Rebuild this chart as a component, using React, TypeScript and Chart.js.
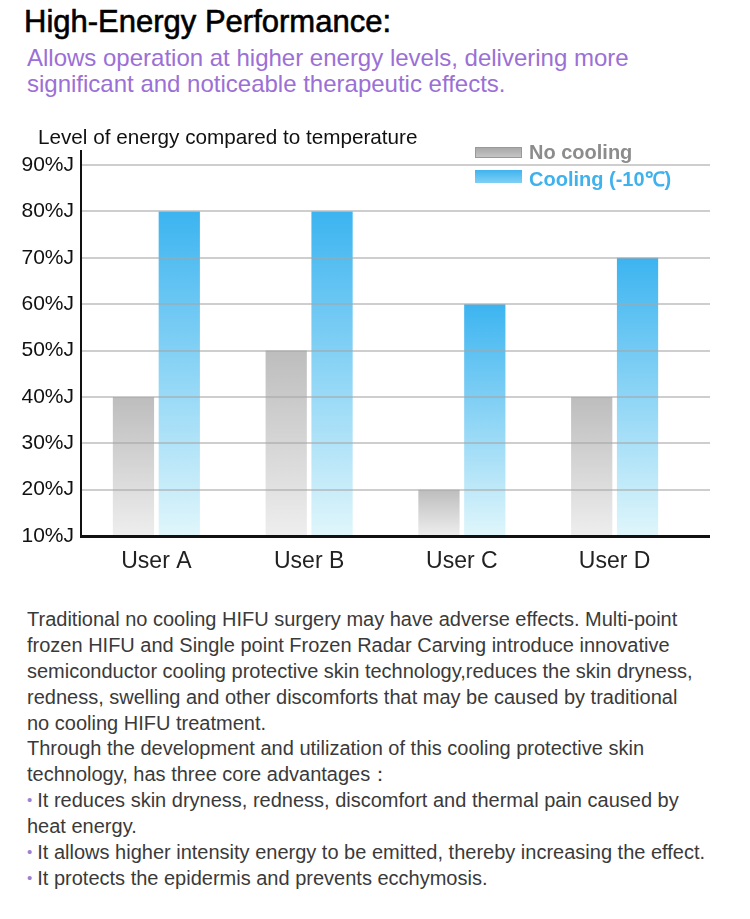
import React, { useEffect, useRef } from "react";
import { Chart, registerables } from "chart.js";

Chart.register(...registerables);

const FONT = "'Liberation Sans', Arial, Helvetica, sans-serif";

const categories = ["User A", "User B", "User C", "User D"];
const noCooling = [40, 50, 20, 40];
const cooling = [80, 80, 60, 70];
const yMin = 10;
const yMax = 90;
const yStep = 10;
const gridValues = [20, 30, 40, 50, 60, 70, 80, 90];
const seriesNames = ["No cooling", "Cooling (-10\u2103)"];

const paragraphLines = [
  "Traditional no cooling HIFU surgery may have adverse effects. Multi-point",
  "frozen HIFU and Single point Frozen Radar Carving introduce innovative",
  "semiconductor cooling protective skin technology,reduces the skin dryness,",
  "redness, swelling and other discomforts that may be caused by traditional",
  "no cooling HIFU treatment.",
  "Through the development and utilization of this cooling protective skin",
  "technology, has three core advantages\uFF1A",
];
const bulletLines: { bullet: boolean; text: string }[] = [
  { bullet: true, text: "It reduces skin dryness, redness, discomfort and thermal pain caused by" },
  { bullet: false, text: "heat energy." },
  { bullet: true, text: "It allows higher intensity energy to be emitted, thereby increasing the effect." },
  { bullet: true, text: "It protects the epidermis and prevents ecchymosis." },
];

function gradientFor(top: string, bottom: string, fallback: string) {
  return (ctx: any) => {
    const chart = ctx.chart;
    const area = chart.chartArea;
    if (!area || ctx.raw === undefined) return fallback;
    const y = chart.scales.y;
    const t = y.getPixelForValue(ctx.raw);
    const b = y.getPixelForValue(yMin);
    if (!isFinite(t) || !isFinite(b) || t === b) return fallback;
    const g = chart.ctx.createLinearGradient(0, t, 0, b);
    g.addColorStop(0, top);
    g.addColorStop(1, bottom);
    return g;
  };
}

const gridPlugin = {
  id: "customGrid",
  afterDatasetsDraw(chart: any) {
    const { ctx, chartArea, scales } = chart;
    const ext = 19;
    ctx.save();
    ctx.strokeStyle = "rgba(165,165,165,0.55)";
    ctx.lineWidth = 2;
    for (const v of gridValues) {
      const y = Math.round(scales.y.getPixelForValue(v));
      ctx.beginPath();
      ctx.moveTo(chartArea.left, y);
      ctx.lineTo(chartArea.right + ext, y);
      ctx.stroke();
    }
    ctx.strokeStyle = "#111";
    ctx.lineWidth = 2;
    ctx.beginPath();
    ctx.moveTo(chartArea.left + 1, chartArea.top - 15);
    ctx.lineTo(chartArea.left + 1, chartArea.bottom);
    ctx.stroke();
    ctx.lineWidth = 3;
    ctx.beginPath();
    ctx.moveTo(chartArea.left, chartArea.bottom + 0.5);
    ctx.lineTo(chartArea.right + ext, chartArea.bottom + 0.5);
    ctx.stroke();
    ctx.restore();
  },
};

function BarChart() {
  const ref = useRef<HTMLCanvasElement | null>(null);
  useEffect(() => {
    if (!ref.current) return;
    const chart = new Chart(ref.current, {
      type: "bar",
      data: {
        labels: categories,
        datasets: [
          {
            label: seriesNames[0],
            data: noCooling,
            base: yMin,
            backgroundColor: gradientFor("#bdbdbd", "#eeeeee", "#cccccc"),
            categoryPercentage: 0.6,
            barPercentage: 0.9,
          },
          {
            label: seriesNames[1],
            data: cooling,
            base: yMin,
            backgroundColor: gradientFor("#3cb4f0", "#e0f6fb", "#6cc6f2"),
            categoryPercentage: 0.6,
            barPercentage: 0.9,
          },
        ],
      } as any,
      options: {
        animation: false,
        responsive: false,
        layout: { padding: { left: 0, right: 59, top: 45, bottom: 0 } },
        plugins: { legend: { display: false }, tooltip: { enabled: false }, title: { display: false } },
        scales: {
          x: {
            grid: { display: false, drawTicks: false },
            border: { display: false },
            ticks: { font: { family: FONT, size: 23 }, color: "#222", padding: 12 },
            afterFit: (s: any) => {
              s.height = 64;
            },
          },
          y: {
            min: yMin,
            max: yMax,
            grid: { display: false, drawTicks: false },
            border: { display: false },
            ticks: {
              stepSize: yStep,
              font: { family: FONT, size: 21 },
              color: "#111",
              padding: 6,
              callback: (v: any) => `${v}%J`,
            },
            afterFit: (s: any) => {
              s.width = 80;
            },
          },
        },
      } as any,
      plugins: [gridPlugin],
    });
    return () => chart.destroy();
  }, []);
  return <canvas ref={ref} width={750} height={480} style={{ width: 750, height: 480, display: "block" }} />;
}

export default function App() {
  const abs = (left: number, centerY: number, lh: number): React.CSSProperties => ({
    position: "absolute",
    left,
    top: centerY - lh / 2,
    lineHeight: `${lh}px`,
    whiteSpace: "nowrap",
  });
  const lineStyle: React.CSSProperties = { whiteSpace: "nowrap", height: 25.9, lineHeight: "25.9px" };
  return (
    <div style={{ position: "relative", width: 750, height: 919, background: "#fff", overflow: "hidden", fontFamily: FONT }}>
      <style>{`body{margin:0}`}</style>
      <div style={{ ...abs(24, 22, 36), fontSize: 31, color: "#000", WebkitTextStroke: "0.6px #000" } as any}>
        High-Energy Performance:
      </div>
      <div style={{ ...abs(27, 58, 28), fontSize: 24, color: "#9b70d6" }}>
        Allows operation at higher energy levels, delivering more
      </div>
      <div style={{ ...abs(27, 84, 28), fontSize: 24, color: "#9b70d6" }}>
        significant and noticeable therapeutic effects.
      </div>
      <div style={{ position: "absolute", left: 0, top: 120 }}>
        <BarChart />
      </div>
      <div style={{ ...abs(38, 137, 24), fontSize: 20.7, color: "#111" }}>Level of energy compared to temperature</div>
      <div
        style={{
          position: "absolute",
          left: 475,
          top: 147,
          width: 47,
          height: 11,
          background: "linear-gradient(#a9a9a9, #c4c4c4)",
          border: "1px solid #999",
          boxSizing: "border-box",
        }}
      />
      <div style={{ ...abs(529, 152, 24), fontSize: 20, fontWeight: "bold", color: "#8c8c8c" }}>{seriesNames[0]}</div>
      <div
        style={{
          position: "absolute",
          left: 475,
          top: 170,
          width: 47,
          height: 13,
          background: "linear-gradient(#3fb4ef, #7fd0f4)",
        }}
      />
      <div style={{ ...abs(529, 179, 24), fontSize: 20, fontWeight: "bold", color: "#3fb1ec" }}>{seriesNames[1]}</div>
      <div style={{ position: "absolute", left: 27, top: 607, fontSize: 20, color: "#3a3a3a" }}>
        {paragraphLines.map((t, i) => (
          <div key={"p" + i} style={lineStyle}>
            {t}
          </div>
        ))}
        {bulletLines.map((b, i) => (
          <div key={"b" + i} style={lineStyle}>
            {b.bullet ? (
              <span
                style={{
                  color: "#9b80d6",
                  fontSize: 15,
                  marginRight: 5,
                  lineHeight: "0px",
                  position: "relative",
                  top: -2,
                }}
              >
                {"\u2022"}
              </span>
            ) : null}
            {b.text}
          </div>
        ))}
      </div>
    </div>
  );
}
